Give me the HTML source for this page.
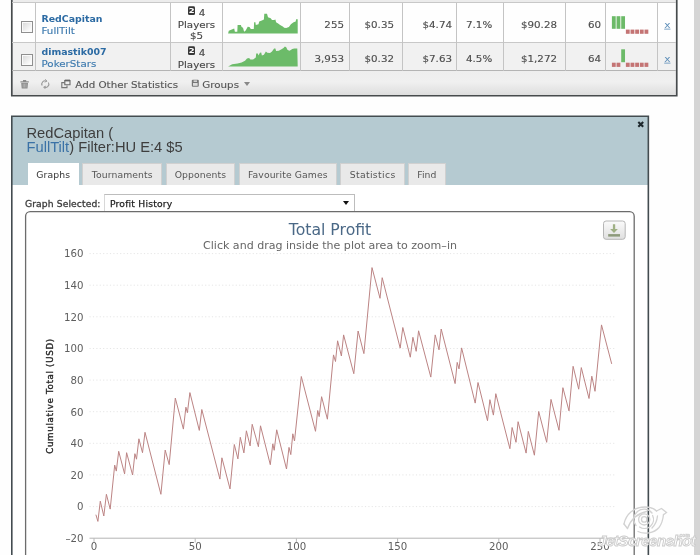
<!DOCTYPE html>
<html><head><meta charset="utf-8"><title>Total Profit</title>
<style>
html,body{margin:0;padding:0}
body{width:700px;height:555px;overflow:hidden;position:relative;background:#fefefe;font-family:"DejaVu Sans","Liberation Sans",sans-serif;font-size:9.4px;color:#444}
.abs{position:absolute}
.t{position:absolute;white-space:nowrap;line-height:1}
#tbl{position:absolute;left:11px;top:-4px;width:666.6px;height:100.4px;border:1.7px solid #484848;border-top:none;background:transparent;box-sizing:border-box}
.vl{position:absolute;top:3px;width:1px;height:68px;background:#c4c4c4}
.hl{position:absolute;left:12px;width:664px;height:1px;background:#c8c8c8}
.blue{color:#3a78ad}
.pl{left:170px;width:53px;text-align:center;color:#464646;font-size:10.3px}
.sq{transform:scaleY(.87);transform-origin:0 80%;-webkit-text-stroke:.15px currentColor}
.b{font-weight:bold;color:#2b6aa3}
.num{position:absolute;white-space:nowrap;line-height:1;text-align:right;color:#4c4c4c;font-size:10.3px;transform:scaleY(.87);transform-origin:0 80%;-webkit-text-stroke:.15px #4c4c4c}
.cb{position:absolute;left:21px;width:12px;height:12px;border:1px solid #8f8f8f;background:linear-gradient(135deg,#d6d6d6,#fbfbfb 80%);box-sizing:border-box;box-shadow:inset 0 0 0 1px #fafafa}
.tab{position:absolute;top:163px;height:22.3px;box-sizing:border-box;border:1px solid #d0d0d0;border-bottom:none;background:#e9e9e9;color:#555;font-size:9.25px;line-height:22.4px;text-align:center;letter-spacing:.1px}
.ic2{display:inline-block;width:7.8px;height:10px;line-height:10px;background:#383838;color:#fff;font-size:8.4px;font-weight:bold;border-radius:1.5px;text-align:center;vertical-align:0.3px;position:relative;top:-2.5px;-webkit-text-stroke:0}
.tab.on{background:#fff;border-color:#fff;color:#333}
</style></head><body>
<!-- right grey band -->
<div class="abs" style="left:694px;top:0;width:6px;height:555px;background:#d5d5d5"></div>
<!-- top table box -->
<div class="abs" style="left:12px;top:0;width:665px;height:3px;background:#ececec"></div>
<div class="abs" style="left:12px;top:43px;width:665px;height:27px;background:#f1f1f1"></div>
<div class="abs" style="left:12px;top:71px;width:665px;height:24px;background:linear-gradient(#eeeeee,#f0f0f0 45%,#dedede)"></div>
<svg class="abs" style="left:0;top:0" width="700" height="100" viewBox="0 0 700 100"><path d="M11.800 -2V95.750H676.750V-2" fill="none" stroke="#474b4d" stroke-width="1.700"/></svg>
<div class="hl" style="top:2px"></div><div class="hl" style="top:42px"></div><div class="hl" style="top:70px;background:#b4b4b4"></div>
<div class="vl" style="left:35px"></div><div class="vl" style="left:170px"></div><div class="vl" style="left:222px"></div><div class="vl" style="left:300px"></div><div class="vl" style="left:349px"></div><div class="vl" style="left:402px"></div><div class="vl" style="left:456px"></div><div class="vl" style="left:503px"></div><div class="vl" style="left:565px"></div><div class="vl" style="left:605px"></div><div class="vl" style="left:657px"></div>
<div class="cb" style="top:21px"></div><div class="cb" style="top:54px"></div>
<div class="t b" id="n1" style="left:41.5px;top:13.5px;font-size:9.4px">RedCapitan</div>
<div class="t blue sq" id="s1" style="left:41.5px;top:25.2px;font-size:10.3px">FullTilt</div>
<div class="t b" id="n2" style="left:41.5px;top:47px;font-size:9.4px">dimastik007</div>
<div class="t blue sq" id="s2" style="left:41.5px;top:58px;font-size:10.3px">PokerStars</div>
<!-- players col -->
<div class="t sq pl" style="top:6.6px"><span class="ic2">2</span> 4</div>
<div class="t sq pl" style="top:18.8px">Players</div>
<div class="t sq pl" style="top:30.4px">$5</div>
<div class="t sq pl" style="top:46.6px"><span class="ic2">2</span> 4</div>
<div class="t sq pl" style="top:58.8px">Players</div>
<svg class="abs" style="left:0;top:0" width="700" height="100" viewBox="0 0 700 100">
<polygon points="228.1,33.5 228.8,30.8 234.2,28.6 234.9,31.8 237.3,31.8 237.6,25.0 240.9,25.0 241.6,27.0 243.0,27.7 244.1,31.8 245.7,30.4 247.7,26.8 249.5,27.0 250.8,29.1 253.8,29.1 254.1,22.3 255.4,22.3 255.8,25.0 258.5,24.3 259.2,21.6 261.9,20.5 263.9,19.6 264.3,13.8 267.0,13.8 268.0,17.3 270.7,18.2 272.0,20.0 274.1,20.0 275.4,19.6 276.1,22.3 278.1,23.6 280.1,25.0 282.8,26.4 284.2,27.7 286.2,28.1 288.9,27.0 290.9,24.3 293.6,22.3 295.7,21.4 296.1,19.2 297.7,19.2 297.7,33.5" fill="#6cbb69"/>
<polygon points="228.1,66.6 232.2,64.2 237.6,63.5 241.6,62.4 245.0,60.8 247.0,58.4 249.1,58.1 250.4,59.5 253.1,59.5 255.8,57.4 256.2,53.4 257.8,53.4 258.5,55.4 259.9,52.7 261.2,52.4 261.9,55.4 263.9,54.7 265.9,51.4 267.3,52.7 270.0,53.0 272.0,51.4 274.1,48.4 275.4,48.6 276.1,51.1 278.8,50.7 281.5,49.3 283.5,48.0 284.9,46.6 286.2,47.3 287.6,50.0 289.6,50.7 292.3,48.9 294.3,48.4 297.3,48.6 297.7,66.6" fill="#6cbb69"/>
<rect x="611.90" y="16.2" width="3.8" height="12.6" fill="#6cba68"/><rect x="616.56" y="16.2" width="3.8" height="12.6" fill="#6cba68"/><rect x="621.22" y="16.2" width="3.8" height="12.6" fill="#6cba68"/><rect x="625.88" y="29.6" width="3.8" height="4.2" fill="#c47474"/><rect x="630.54" y="29.6" width="3.8" height="4.2" fill="#c47474"/><rect x="635.20" y="29.6" width="3.8" height="4.2" fill="#c47474"/><rect x="639.86" y="29.6" width="3.8" height="4.2" fill="#c47474"/><rect x="644.52" y="29.6" width="3.8" height="4.2" fill="#c47474"/><rect x="611.90" y="62.7" width="3.8" height="4.2" fill="#c47474"/><rect x="616.56" y="62.7" width="3.8" height="4.2" fill="#c47474"/><rect x="621.22" y="49.3" width="3.8" height="12.9" fill="#6cba68"/><rect x="625.88" y="62.7" width="3.8" height="4.2" fill="#c47474"/><rect x="630.54" y="62.7" width="3.8" height="4.2" fill="#c47474"/><rect x="635.20" y="62.7" width="3.8" height="4.2" fill="#c47474"/><rect x="639.86" y="62.7" width="3.8" height="4.2" fill="#c47474"/><rect x="644.52" y="62.7" width="3.8" height="4.2" fill="#c47474"/>
</svg>
<div class="num" style="right:356px;top:18.8px">255</div>
<div class="num" style="right:306px;top:18.8px">$0.35</div>
<div class="num" style="right:248px;top:18.8px">$4.74</div>
<div class="num" style="left:466px;top:18.8px">7.1%</div>
<div class="num" style="right:143px;top:18.8px">$90.28</div>
<div class="num" style="right:99px;top:18.8px">60</div>
<div class="num" style="right:356px;top:53px">3,953</div>
<div class="num" style="right:306px;top:53px">$0.32</div>
<div class="num" style="right:248px;top:53px">$7.63</div>
<div class="num" style="left:466px;top:53px">4.5%</div>
<div class="num" style="right:143px;top:53px">$1,272</div>
<div class="num" style="right:99px;top:53px">64</div>
<div class="t" style="left:664.2px;top:18.9px;font-size:10.6px;color:#5c8db8;text-decoration:underline;transform:scaleY(.8);transform-origin:0 80%">x</div>
<div class="t" style="left:664.2px;top:52.9px;font-size:10.6px;color:#5c8db8;text-decoration:underline;transform:scaleY(.8);transform-origin:0 80%">x</div>
<!-- footer -->
<svg class="abs" style="left:18px;top:77.3px" width="60" height="14" viewBox="0 0 60 14" fill="none">
<path d="M2.4 4.3h8.4v1.1H2.4zM5 3h3.2v1.3H5zM3.2 5.9h6.8l-.5 5.5H3.7z" fill="#8c8c8c"/>
<path d="M5.2 6.6v4M6.6 6.6v4M8 6.6v4" stroke="#c8c8c8" stroke-width=".6"/>
<g stroke="#9a9a9a" stroke-width="1.1"><path d="M24.2 8.6a3.2 3.2 0 0 1 4.3-4.4M30.4 5.6a3.2 3.2 0 0 1-4.3 4.4"/><path d="M27.2 2.2l1.8 2-2.4.9M27.4 12l-1.8-2 2.4-.9" stroke-width=".9"/></g>
<path d="M46.6 5.6h-2.8v5h5.2v-2.2" stroke="#777" stroke-width="1.1"/><path d="M46.8 3.6h5.2v4.2h-5.2z" stroke="#6a6a6a" stroke-width="1.1"/><path d="M46.8 3.4h5.2" stroke="#666" stroke-width="1.6"/>
</svg>
<div class="t sq" id="aos" style="left:75.3px;top:78.5px;font-size:10.3px;color:#555;letter-spacing:0">Add Other Statistics</div>
<svg class="abs" style="left:190.5px;top:79.3px" width="9" height="9" viewBox="0 0 9 9"><rect x=".8" y=".8" width="7" height="7" rx="1" fill="#777"/><rect x="2" y="4" width="4.6" height="2.8" fill="#ddd"/><rect x="2.6" y="1.4" width="3.4" height="1.5" fill="#ddd"/></svg>
<div class="t sq" id="grp" style="left:202.3px;top:78.5px;font-size:10.3px;color:#555;letter-spacing:0">Groups</div>
<div class="abs" style="left:244.2px;top:81.8px;width:0;height:0;border-left:3.5px solid transparent;border-right:3.5px solid transparent;border-top:4.5px solid #888"></div>

<!-- dialog -->
<div class="abs" style="left:12px;top:116px;width:636px;height:450px;background:#fff"></div>
<div class="abs" style="left:12px;top:116px;width:637px;height:69.3px;background:#b5cad1"></div><svg class="abs" style="left:0;top:100px" width="700" height="455" viewBox="0 100 700 455"><path d="M11.800 560V116.250H648.350V560" fill="none" stroke="#434c50" stroke-width="1.600"/></svg>
<div class="t" id="ttl1" style="left:26.5px;top:126.2px;font-family:'Liberation Sans',sans-serif;font-size:14.7px;color:#3e3e3e;letter-spacing:0;transform:scaleY(1.03);transform-origin:0 80%">RedCapitan (</div>
<div class="t" id="ttl2" style="left:26.5px;top:139.5px;font-family:'Liberation Sans',sans-serif;font-size:14.7px;color:#3e3e3e;letter-spacing:0;transform:scaleY(1.03);transform-origin:0 80%"><span style="color:#3b72a6">FullTilt</span>) Filter:HU E:4 $5</div>
<svg class="abs" style="left:636px;top:120px" width="10" height="9" viewBox="0 0 10 9"><path d="M2.300 2.100l4.900 4.700M7.200 2.100l-4.900 4.700" stroke="#1e282d" stroke-width="2.100" fill="none"/></svg>
<div class="tab on" style="left:27.7px;width:51px">Graphs</div>
<div class="tab" style="left:82.1px;width:80.3px">Tournaments</div>
<div class="tab" style="left:165.6px;width:69.6px">Opponents</div>
<div class="tab" style="left:238.5px;width:98.6px">Favourite Games</div>
<div class="tab" style="left:340.2px;width:64.9px;letter-spacing:.36px">Statistics</div>
<div class="tab" style="left:407.9px;width:37.9px">Find</div>
<div class="t" id="gs" style="left:25px;top:199px;font-size:9.2px;color:#3a3a3a;letter-spacing:.1px;-webkit-text-stroke:.3px #3a3a3a">Graph Selected:</div>
<div class="abs" style="left:104.3px;top:193.8px;width:251px;height:18px;box-sizing:border-box;border:1px solid #bdbdbd;border-left-color:#d8d8d8;border-bottom:none;background:#fff"></div>
<div class="t" id="ph" style="left:110px;top:198.5px;font-size:9.2px;color:#222;letter-spacing:.2px;-webkit-text-stroke:.25px #222">Profit History</div>
<div class="abs" style="left:343.2px;top:201px;width:0;height:0;border-left:3.7px solid transparent;border-right:3.7px solid transparent;border-top:4.2px solid #111"></div>
<!-- chart container -->
<svg class="abs" style="left:0;top:200px" width="700" height="355" viewBox="0 200 700 355"><rect x="25.600" y="211.600" width="608.600" height="380" rx="4.600" fill="#fff" stroke="#6c6c6c" stroke-width="1.300"/></svg>
<div class="t" id="ct" style="left:130px;width:400px;text-align:center;top:221.5px;font-size:15.7px;color:#4a6886">Total Profit</div>
<div class="t" id="cs" style="left:130px;width:400px;text-align:center;top:239.7px;font-size:11.05px;color:#666;letter-spacing:0">Click and drag inside the plot area to zoom&#8211;in</div>
<!-- export button -->
<svg class="abs" style="left:600px;top:216px" width="30" height="28" viewBox="600 216 30 28">
<defs><linearGradient id="bg1" x1="0" y1="0" x2="0" y2="1"><stop offset="0" stop-color="#fbfbfb"/><stop offset="1" stop-color="#dfdfdf"/></linearGradient></defs>
<rect x="603.500" y="221" width="21.700" height="18.300" rx="2.600" fill="url(#bg1)" stroke="#b6b6b6" stroke-width="1"/>
<path d="M612.900 224.300h2.300v4.600h2.700l-3.900 4.200-3.900-4.200h2.800z" fill="#9fb084"/>
<rect x="608.200" y="234.100" width="11.800" height="2.500" fill="#8d9a7b"/>
</svg>
<svg class="abs" style="left:0;top:0" width="700" height="555" viewBox="0 0 700 555" font-family="DejaVu Sans, Liberation Sans, sans-serif">
<g stroke="#e6e6e6" stroke-width="1" stroke-dasharray="1.2 2.2"><line x1="89.5" x2="616" y1="253.6" y2="253.6"/><line x1="89.5" x2="616" y1="285.2" y2="285.2"/><line x1="89.5" x2="616" y1="316.8" y2="316.8"/><line x1="89.5" x2="616" y1="348.5" y2="348.5"/><line x1="89.5" x2="616" y1="380.1" y2="380.1"/><line x1="89.5" x2="616" y1="411.7" y2="411.7"/><line x1="89.5" x2="616" y1="443.3" y2="443.3"/><line x1="89.5" x2="616" y1="474.9" y2="474.9"/><line x1="89.5" x2="616" y1="506.6" y2="506.6"/></g>
<line x1="89.5" x2="634" y1="538.2" y2="538.2" stroke="#b4b4b4" stroke-width="1"/>
<g stroke="#b8b8b8" stroke-width="1"><line x1="94.0" x2="94.0" y1="538.2" y2="542.5"/><line x1="195.2" x2="195.2" y1="538.2" y2="542.5"/><line x1="296.4" x2="296.4" y1="538.2" y2="542.5"/><line x1="397.6" x2="397.6" y1="538.2" y2="542.5"/><line x1="498.8" x2="498.8" y1="538.2" y2="542.5"/><line x1="600.0" x2="600.0" y1="538.2" y2="542.5"/></g>
<g font-size="10.2" fill="#5e5e5e"><text x="83.5" y="257.4" text-anchor="end">160</text><text x="83.5" y="289.0" text-anchor="end">140</text><text x="83.5" y="320.6" text-anchor="end">120</text><text x="83.5" y="352.3" text-anchor="end">100</text><text x="83.5" y="383.9" text-anchor="end">80</text><text x="83.5" y="415.5" text-anchor="end">60</text><text x="83.5" y="447.1" text-anchor="end">40</text><text x="83.5" y="478.7" text-anchor="end">20</text><text x="83.5" y="510.4" text-anchor="end">0</text><text x="83.5" y="542.0" text-anchor="end">–20</text><text x="94.0" y="550" text-anchor="middle">0</text><text x="195.2" y="550" text-anchor="middle">50</text><text x="296.4" y="550" text-anchor="middle">100</text><text x="397.6" y="550" text-anchor="middle">150</text><text x="498.8" y="550" text-anchor="middle">200</text><text x="600.0" y="550" text-anchor="middle">250</text></g>
<text transform="translate(52.600,396) rotate(-90)" text-anchor="middle" font-size="8.700" fill="#262626" stroke="#262626" stroke-width=".35" letter-spacing=".68">Cumulative Total (USD)</text>
<polyline points="95.9,514.7 97.9,521.4 100.3,501.2 103.8,516.0 106.4,494.3 110.2,509.1 114.7,465.1 116.3,471.1 118.7,451.3 124.6,473.9 126.6,452.7 132.6,475.0 134.9,453.7 136.5,459.2 138.9,438.8 142.5,452.7 145.0,432.3 160.9,494.3 165.2,450.1 169.2,464.6 175.3,398.1 183.4,429.1 185.9,407.2 187.4,412.7 189.9,392.6 199.3,430.4 201.8,409.5 219.9,479.1 221.9,457.8 230.0,488.9 234.3,444.5 237.9,458.9 240.3,437.3 243.9,452.9 246.4,430.8 250.1,445.9 252.2,424.3 258.4,446.7 260.5,425.8 270.3,464.7 272.8,443.8 274.2,450.3 276.7,429.8 286.5,469.0 289.0,447.4 290.8,454.6 292.8,433.8 294.5,441.0 301.3,376.5 315.5,431.3 317.7,410.5 319.2,416.6 321.6,396.7 327.4,419.2 333.5,354.9 335.5,361.5 337.6,340.8 341.4,356.0 343.6,334.9 353.8,373.7 358.1,331.0 363.9,353.6 372.0,267.6 380.0,298.3 382.2,277.7 400.2,348.1 402.8,327.5 410.3,357.2 412.9,337.3 416.2,351.3 418.6,330.8 430.8,377.1 435.2,334.9 439.0,349.8 441.2,329.0 455.1,383.6 457.2,362.4 459.0,368.9 461.6,347.9 475.2,403.1 478.0,382.5 487.5,420.7 489.9,399.7 493.4,415.1 495.8,393.7 509.9,448.7 512.1,427.5 516.0,442.3 518.1,421.7 526.1,453.1 528.3,431.4 534.4,455.2 538.7,411.5 546.7,442.3 551.0,399.4 559.0,430.3 562.9,387.7 569.0,410.9 573.1,366.3 578.7,389.2 581.3,367.6 589.0,398.5 591.8,376.2 595.0,391.3 601.5,324.9 611.7,363.9" fill="none" stroke="#bc8484" stroke-width="1" stroke-linejoin="round"/>
</svg>
<!-- watermark -->
<svg class="abs" style="left:590px;top:495px" width="110" height="60" viewBox="0 0 110 60">
<g fill="none" stroke="#d2d2d2" stroke-width="1.3" stroke-linecap="round">
<circle cx="54.2" cy="24.4" r="2.7"/><circle cx="54.2" cy="24.4" r="5.6"/>
<path d="M46 30.5a9.3 9.3 0 0 1 16-12.5"/><path d="M62.6 20.5a9 9 0 0 1-13 11.5"/>
<path d="M34 29c2-10 10-17 21-17 5 0 9 1.500 11.500 4"/>
<path d="M37.500 33.500c3-8 9-15 19-17"/>
<path d="M34 29l3.500 4.500"/>
<path d="M48 36.500c6 3 16 2 21-4 3-4 4-8 4.500-13"/>
<path d="M66.500 16l5-2.500 5 4-3 2.200"/>
<path d="M62 33c3-3 5-7 5.500-12"/>
</g>
<text x="56.800" y="51.300" text-anchor="middle" font-family="Liberation Sans, sans-serif" font-style="italic" font-weight="bold" font-size="15.200" fill="#fdfdfd" stroke="#cbcbcb" stroke-width="0.9" letter-spacing="-.55">JetScreenshot</text>
<text x="94" y="42" text-anchor="middle" font-family="Liberation Sans, sans-serif" font-weight="bold" font-size="5" fill="#fdfdfd" stroke="#cfcfcf" stroke-width="0.6">.com</text>
</svg>
</body></html>
